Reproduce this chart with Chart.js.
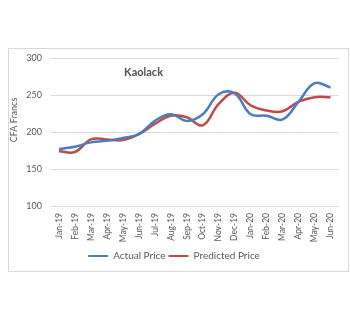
<!DOCTYPE html>
<html>
<head>
<meta charset="utf-8">
<script src="https://cdn.jsdelivr.net/npm/chart.js@4.4.0/dist/chart.umd.min.js"></script>
<style>
  html, body { margin: 0; padding: 0; background: #fff; }
  #box { position: absolute; left: 8px; top: 48px; width: 339px; height: 222px; border: 1px solid #d9d9d9; }
  canvas { display: block; }
</style>
</head>
<body>
<div id="box"><canvas id="priceChart" width="339" height="222"></canvas></div>
<script>
const months = ["Jan-19", "Feb-19", "Mar-19", "Apr-19", "May-19", "Jun-19", "Jul-19", "Aug-19", "Sep-19",
  "Oct-19", "Nov-19", "Dec-19", "Jan-20", "Feb-20", "Mar-20", "Apr-20", "May-20", "Jun-20"];
const actualPrice = [177, 180, 186, 188, 192, 197, 215, 224, 215, 224, 251, 252, 224, 222, 217, 241, 266, 260];
const predictedPrice = [174, 173, 190, 190, 189, 197, 211, 222, 220, 209, 238, 253, 236, 229, 228, 241, 247, 247];
const yMin = 100;
const yMax = 300;
const yStep = 50;

const textColor = "#595959";
const gridColor = "#d9d9d9";

// chart title and y axis title sit inside the plot like the original
const chartText = {
  id: "chartText",
  afterDraw(chart) {
    const ctx = chart.ctx;
    const area = chart.chartArea;
    ctx.save();
    ctx.textAlign = "center";
    ctx.textBaseline = "middle";
    ctx.fillStyle = "#505050";
    ctx.font = "bold 11px Lato";
    ctx.fillText("Kaolack", area.left + area.width * 0.322, area.top + 14);
    ctx.translate(5, area.top + 62);
    ctx.rotate(-Math.PI / 2);
    ctx.fillStyle = textColor;
    ctx.font = "9px Lato";
    ctx.fillText("CFA Francs", 0, 0);
    ctx.restore();
  }
};

const ctx = document.getElementById("priceChart").getContext("2d");
const priceChart = new Chart(ctx, {
  type: "line",
  data: {
    labels: months,
    datasets: [
      {
        label: "Actual Price",
        data: actualPrice,
        borderColor: "#4a7ebb",
        backgroundColor: "#4a7ebb",
        borderWidth: 2.5,
        pointRadius: 0,
        tension: 0.4,
      },
      {
        label: "Predicted Price",
        data: predictedPrice,
        borderColor: "#be4b48",
        backgroundColor: "#be4b48",
        borderWidth: 2.5,
        pointRadius: 0,
        tension: 0.4,
      },
    ],
  },
  options: {
    responsive: false,
    animation: false,
    layout: {
      padding: { top: 9, right: 9, bottom: 0, left: 0 },
    },
    plugins: {
      legend: {
        position: "bottom",
        labels: {
          color: textColor,
          font: { family: "Lato", size: 10 },
          boxWidth: 20,
          boxHeight: 2,
          padding: 3,
          generateLabels: (chart) =>
            Chart.defaults.plugins.legend.labels.generateLabels(chart).map((l) => ({ ...l, lineWidth: 0 })),
        },
      },
      tooltip: { enabled: false },
    },
    scales: {
      x: {
        offset: true,
        grid: { display: false, drawTicks: false },
        border: { display: false },
        ticks: {
          color: textColor,
          font: { family: "Lato", size: 8.5 },
          minRotation: 90,
          maxRotation: 90,
          autoSkip: false,
          padding: 7,
        },
        afterFit: (axis) => { axis.height = 42; },
      },
      y: {
        min: yMin,
        max: yMax,
        grid: { color: gridColor, drawTicks: true, tickLength: 9, tickColor: "rgba(0,0,0,0)" },
        border: { display: false },
        ticks: {
          stepSize: yStep,
          color: textColor,
          font: { family: "Lato", size: 9 },
          padding: 0,
        },
        afterFit: (axis) => { axis.width = 42; },
      },
    },
  },
  plugins: [chartText],
});
</script>
</body>
</html>
